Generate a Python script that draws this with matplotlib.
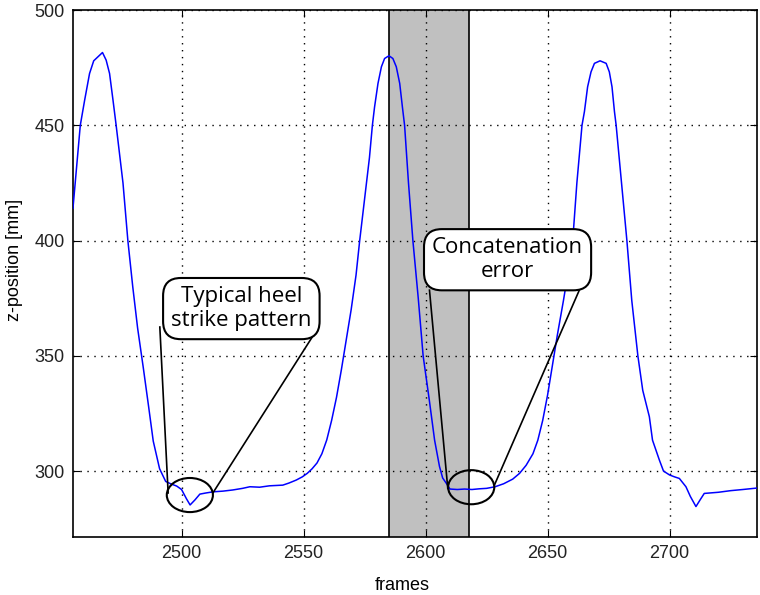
import matplotlib
matplotlib.use("Agg")
import matplotlib.pyplot as plt
from matplotlib.patches import Ellipse

# z-position of the heel marker
frames = [2455.5, 2457, 2458.5, 2460.3, 2462.3, 2464, 2465.7, 2467.6, 2469.1, 2470.5,
          2471.9, 2473.2, 2476, 2478, 2480, 2482, 2484.3, 2486.5, 2488.4, 2491,
          2493.5, 2495.5, 2498, 2500, 2502, 2503.5, 2505.5, 2507.5, 2510, 2513,
          2517, 2521, 2525, 2528, 2532, 2536, 2541.5, 2544, 2547, 2549.5,
          2551.5, 2553.5, 2555.5, 2557.5, 2559.5, 2561.5, 2563.5, 2565.5, 2567.5, 2569.5,
          2571.5, 2573, 2575, 2577, 2578.2, 2579.1, 2580.5, 2581.9, 2583.2, 2585,
          2586.6, 2588, 2589.4, 2590.5, 2591.4, 2593, 2594.8, 2597, 2599, 2601.5,
          2603.7, 2605.7, 2607, 2608.5, 2610, 2613, 2616, 2619, 2622, 2625,
          2628.5, 2632, 2635.7, 2638.5, 2641.2, 2644, 2646, 2648, 2650, 2652,
          2654, 2656.5, 2658.5, 2660.3, 2662, 2664.1, 2665.1, 2666.4, 2667.8, 2669.2,
          2671.5, 2674, 2675.3, 2676.4, 2677.4, 2678.1, 2680.3, 2682.5, 2684.5, 2687,
          2689, 2691.7, 2693, 2695.8, 2697.5, 2700, 2702, 2704, 2706.7, 2708.5,
          2710.8, 2712.5, 2714.2, 2720, 2725, 2730, 2735.5]
z_pos = [414, 432, 450, 461, 472.5, 478, 479.7, 481.6, 478.3, 472.5,
         461, 450, 425, 400, 380, 362, 345, 328, 313, 301,
         295.5, 294.5, 293.5, 292, 288, 285.3, 287.5, 290, 290.5, 291,
         291.3, 291.8, 292.5, 293.2, 293, 293.6, 293.9, 294.8, 296.1, 297.5,
         299, 301, 303.5, 307.5, 313.5, 322, 332, 344, 357, 370,
         385, 400, 418, 436, 450, 458, 468.2, 475.4, 479, 480.2,
         479, 475.4, 468.2, 458, 450, 425, 400, 375, 350, 331,
         313.4, 302, 297, 294.7, 292.2, 292, 292.2, 292, 292.3, 292.5,
         293.2, 294.5, 296.5, 299, 302.5, 307.5, 313.4, 322, 333, 346,
         359, 374, 387, 400, 425, 450, 456, 466.7, 473.2, 476.9,
         478, 476.9, 473.2, 466.7, 456, 450, 425, 400, 374, 350,
         335, 323.6, 313.4, 304.8, 300, 298.3, 297.5, 296.8, 293.2, 289,
         284.6, 287.5, 290.3, 290.8, 291.5, 292, 292.6]

gap_start, gap_end = 2585, 2618

# callouts: text, box centre, ellipse centre, leader line ends
notes = ["Typical heel\nstrike pattern", "Concatenation\nerror"]
note_xy = [(2524.5, 370.5), (2633.6, 391.7)]
circ_xy = [(2503.4, 289.6), (2618.7, 293.0)]
leaders = [[((2491.1, 362.5), (2494.5, 290.5)), ((2554.6, 359.9), (2512.9, 290.6))],
           [((2601.6, 378.5), (2609.1, 292.5)), ((2663.0, 378.5), (2628.2, 293.9))]]

fig = plt.figure(figsize=(7.6, 5.95), dpi=100)
ax = fig.add_axes([0.096, 0.0975, 0.9, 0.8855])

ax.axvspan(gap_start, gap_end, facecolor='#c0c0c0', edgecolor='none', zorder=0)
ax.axvline(gap_start, color='k', lw=1.2, zorder=1)
ax.axvline(gap_end, color='k', lw=1.2, zorder=1)

ax.plot(frames, z_pos, color='#0000ff', lw=1.1, zorder=3)

for i in range(len(notes)):
    for (p0, p1) in leaders[i]:
        ax.plot([p0[0], p1[0]], [p0[1], p1[1]], color='k', lw=1.2, zorder=4)
    ax.add_patch(Ellipse(circ_xy[i], 18.9, 14.8, fill=False, ec='k', lw=1.5, zorder=5))
    ax.text(note_xy[i][0], note_xy[i][1], notes[i], ha='center', va='center',
            fontsize=16, family='Open Sans', linespacing=1.2, zorder=6,
            bbox=dict(boxstyle='round,pad=0.36,rounding_size=0.8', fc='white', ec='k', lw=1.5))

ax.set_xlim(2455.5, 2735.8)
ax.set_ylim(271.4, 500)
ax.set_xticks([2500, 2550, 2600, 2650, 2700])
ax.set_yticks([300, 350, 400, 450, 500])
ax.grid(True, color='k', linestyle=(0, (1, 4)), lw=1)
ax.tick_params(direction='in', top=True, right=True, length=5, labelsize=13,
               labelcolor='#222222', pad=6)
for lab in ax.get_xticklabels() + ax.get_yticklabels():
    lab.set_family('Liberation Sans')
for sp in ax.spines.values():
    sp.set_linewidth(1.2)

ax.set_xlabel('frames', fontsize=13, family='Liberation Sans', va='center')
ax.set_ylabel('z-position [mm]', fontsize=13, family='Liberation Sans', va='center')
ax.xaxis.set_label_coords(0.482, -0.093)
ax.yaxis.set_label_coords(-0.0855, 0.526)

plt.savefig('out.png', dpi=100)
